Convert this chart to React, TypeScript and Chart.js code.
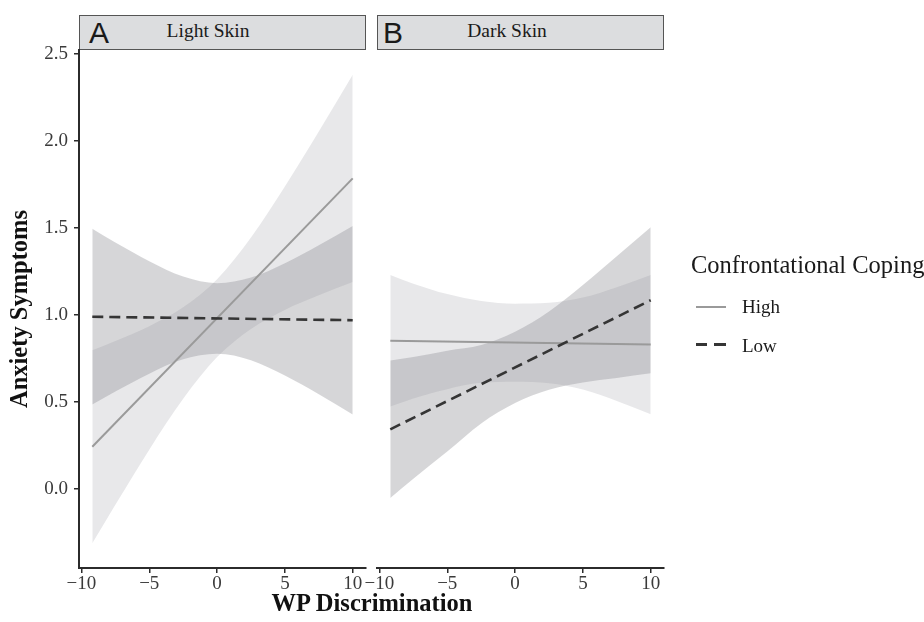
import React, { useEffect, useRef } from "react";
import { Chart, registerables } from "chart.js";
Chart.register(...registerables);

// ---- data ----
const xGrid = [-9.2, -7.5, -5, -2.5, 0, 2.5, 5, 7.5, 10];
const lineX = [-9.2, 10];
const xTicks = [-10, -5, 0, 5, 10];
const yTicks = [0, 0.5, 1, 1.5, 2, 2.5];
const panelTitles = ["Light Skin", "Dark Skin"];
const panelTags = ["A", "B"];
const legendTitle = "Confrontational Coping";
const legendLabels = ["High", "Low"];
const xTitle = "WP Discrimination";
const yTitle = "Anxiety Symptoms";

// Light skin
const lightHighLine = [0.243, 1.785];
const lightLowLine = [0.99, 0.97];
const lightHighUpper = [0.798, 0.851, 0.936, 1.044, 1.206, 1.446, 1.739, 2.055, 2.381];
const lightHighLower = [-0.312, -0.091, 0.226, 0.518, 0.758, 0.92, 1.029, 1.113, 1.189];
const lightLowUpper = [1.495, 1.416, 1.309, 1.221, 1.183, 1.216, 1.298, 1.401, 1.512];
const lightLowLower = [0.485, 0.56, 0.663, 0.745, 0.777, 0.74, 0.652, 0.545, 0.428];

// Dark skin
const darkHighLine = [0.852, 0.83];
const darkLowLine = [0.343, 1.085];
const darkHighUpper = [1.23, 1.18, 1.12, 1.08, 1.065, 1.07, 1.1, 1.16, 1.23];
const darkHighLower = [0.474, 0.52, 0.574, 0.61, 0.617, 0.608, 0.572, 0.506, 0.43];
const darkLowUpper = [0.738, 0.759, 0.795, 0.827, 0.904, 1.02, 1.172, 1.338, 1.505];
const darkLowLower = [-0.052, 0.059, 0.215, 0.377, 0.494, 0.57, 0.612, 0.638, 0.665];

const X_MIN = -10.18;
const X_MAX = 10.98;
const Y_MIN = -0.454;
const Y_MAX = 2.523;

const SERIF = "'Liberation Serif', 'Times New Roman', serif";
const SANS = "'Liberation Sans', Arial, sans-serif";
const AXIS = "#2b2b2b";
const TICK_TEXT = "#3a3a3a";
const HIGH_BAND = "rgba(140,142,148,0.2)";
const LOW_BAND = "rgba(140,142,148,0.36)";
const HIGH_LINE = "#9a9a9a";
const LOW_LINE = "#353535";

const fmtX = (v: number) => (v < 0 ? "\u2212" + Math.abs(v) : String(v));

function makeConfig(p: any): any {
  const pts = (xs: number[], ys: number[]) => ys.map((y, i) => ({ x: xs[i], y }));
  const band = (ys: number[], fill: any, color: string) => ({
    data: pts(xGrid, ys),
    fill,
    backgroundColor: color,
    borderColor: "rgba(0,0,0,0)",
    borderWidth: 0,
    pointRadius: 0,
    cubicInterpolationMode: "monotone",
  });
  return {
    type: "line",
    data: {
      datasets: [
        {
          data: pts(lineX, p.lowLine),
          borderColor: LOW_LINE,
          borderWidth: 2.6,
          borderDash: [11, 6],
          pointRadius: 0,
          fill: false,
          tension: 0,
        },
        {
          data: pts(lineX, p.highLine),
          borderColor: HIGH_LINE,
          borderWidth: 2,
          pointRadius: 0,
          fill: false,
          tension: 0,
        },
        band(p.highUpper, "+1", HIGH_BAND),
        band(p.highLower, false, "rgba(0,0,0,0)"),
        band(p.lowUpper, "+1", LOW_BAND),
        band(p.lowLower, false, "rgba(0,0,0,0)"),
      ],
    },
    options: {
      animation: false,
      responsive: false,
      devicePixelRatio: 1,
      events: [],
      layout: { padding: p.padding },
      plugins: { legend: { display: false }, tooltip: { enabled: false } },
      scales: {
        x: {
          type: "linear",
          min: X_MIN,
          max: X_MAX,
          afterBuildTicks: (s: any) => {
            s.ticks = xTicks.map((v) => ({ value: v }));
          },
          afterFit: (s: any) => {
            s.height = 54;
            s.paddingLeft = 0;
            s.paddingRight = 0;
          },
          ticks: {
            callback: (v: any) => fmtX(Number(v)),
            font: { family: SERIF, size: 19 },
            color: TICK_TEXT,
            padding: 0,
            maxRotation: 0,
            autoSkip: false,
          },
          grid: {
            display: true,
            drawOnChartArea: false,
            drawTicks: true,
            tickLength: 5,
            color: AXIS,
            lineWidth: 1.5,
          },
          border: { display: true, color: AXIS, width: 2 },
        },
        y: {
          type: "linear",
          display: p.showY,
          min: Y_MIN,
          max: Y_MAX,
          afterBuildTicks: (s: any) => {
            s.ticks = yTicks.map((v) => ({ value: v }));
          },
          afterFit: (s: any) => {
            s.width = p.showY ? 79 : 0;
            s.paddingTop = 0;
            s.paddingBottom = 0;
          },
          ticks: {
            callback: (v: any) => Number(v).toFixed(1),
            font: { family: SERIF, size: 19 },
            color: TICK_TEXT,
            padding: 6,
          },
          grid: {
            display: true,
            drawOnChartArea: false,
            drawTicks: true,
            tickLength: 5,
            color: AXIS,
            lineWidth: 1.5,
          },
          border: { display: true, color: AXIS, width: 2 },
          title: {
            display: p.showY,
            text: yTitle,
            font: { family: SERIF, size: 24.5, weight: "bold" },
            color: "#111",
            padding: { top: 6, bottom: 0 },
          },
        },
      },
    },
  };
}

const abs = (o: any): React.CSSProperties => ({ position: "absolute", ...o });

export default function App() {
  const leftRef = useRef<HTMLCanvasElement>(null);
  const rightRef = useRef<HTMLCanvasElement>(null);

  useEffect(() => {
    const c1 = new Chart(
      leftRef.current as HTMLCanvasElement,
      makeConfig({
        highUpper: lightHighUpper,
        highLower: lightHighLower,
        lowUpper: lightLowUpper,
        lowLower: lightLowLower,
        highLine: lightHighLine,
        lowLine: lightLowLine,
        showY: true,
        padding: { left: 0, right: 4, top: 50, bottom: 0 },
      })
    );
    const c2 = new Chart(
      rightRef.current as HTMLCanvasElement,
      makeConfig({
        highUpper: darkHighUpper,
        highLower: darkHighLower,
        lowUpper: darkLowUpper,
        lowLower: darkLowLower,
        highLine: darkHighLine,
        lowLine: darkLowLine,
        showY: false,
        padding: { left: 37, right: 260, top: 50, bottom: 0 },
      })
    );
    return () => {
      c1.destroy();
      c2.destroy();
    };
  }, []);

  const stripStyle = (left: number): React.CSSProperties =>
    abs({
      left,
      top: 15,
      width: 287,
      height: 35,
      boxSizing: "border-box",
      background: "#dcdddf",
      border: "1.5px solid #555",
    });

  const textStyle = (o: any): React.CSSProperties =>
    abs({ whiteSpace: "nowrap", lineHeight: 1, margin: 0, padding: 0, ...o });

  return (
    <div style={abs({ left: 0, top: 0, width: 924, height: 622, background: "#fff", overflow: "hidden" })}>
      <div style={stripStyle(79)} />
      <div style={stripStyle(377)} />
      <div style={textStyle({ left: 89, top: 17.6, fontFamily: SANS, fontSize: 30, color: "#1a1a1a" })}>{panelTags[0]}</div>
      <div style={textStyle({ left: 383, top: 17.6, fontFamily: SANS, fontSize: 30, color: "#1a1a1a" })}>{panelTags[1]}</div>
      <div style={textStyle({ left: 108, width: 200, textAlign: "center", top: 20.7, fontFamily: SERIF, fontSize: 19.5, color: "#1a1a1a" })}>{panelTitles[0]}</div>
      <div style={textStyle({ left: 407, width: 200, textAlign: "center", top: 20.7, fontFamily: SERIF, fontSize: 19.5, color: "#1a1a1a" })}>{panelTitles[1]}</div>

      <canvas ref={leftRef} width={370} height={622} style={abs({ left: 0, top: 0, width: 370, height: 622 })} />
      <canvas ref={rightRef} width={584} height={622} style={abs({ left: 340, top: 0, width: 584, height: 622 })} />

      <div style={textStyle({ left: 172, width: 400, textAlign: "center", top: 590.5, fontFamily: SERIF, fontSize: 24.5, fontWeight: "bold", color: "#111" })}>{xTitle}</div>

      <div style={textStyle({ left: 691, top: 252.5, fontFamily: SERIF, fontSize: 24.5, color: "#1a1a1a" })}>{legendTitle}</div>
      <div style={abs({ left: 696, top: 306, width: 30, height: 2, background: HIGH_LINE })} />
      <div style={abs({ left: 696, top: 343, width: 11, height: 3, background: LOW_LINE })} />
      <div style={abs({ left: 714, top: 343, width: 12, height: 3, background: LOW_LINE })} />
      <div style={textStyle({ left: 742, top: 297, fontFamily: SERIF, fontSize: 19, color: "#1a1a1a" })}>{legendLabels[0]}</div>
      <div style={textStyle({ left: 742, top: 336, fontFamily: SERIF, fontSize: 19, color: "#1a1a1a" })}>{legendLabels[1]}</div>
    </div>
  );
}
